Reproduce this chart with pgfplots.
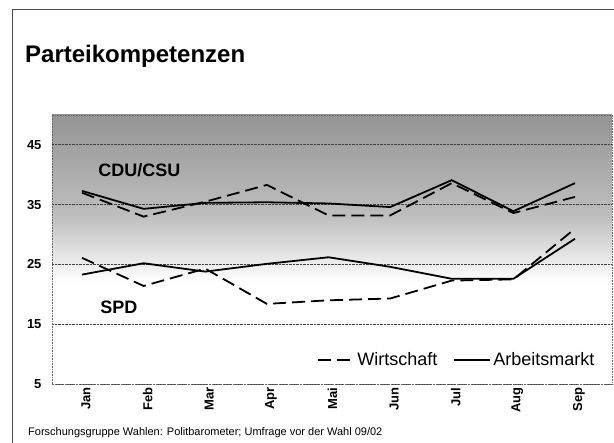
\documentclass[border=0pt]{standalone}
\usepackage{pgfplots}
\pgfplotsset{compat=1.18}
\usepackage{fontspec}
\setmainfont{Liberation Sans}
\pgfdeclareverticalshading{bgshade}{100bp}{color(0bp)=(white); color(44bp)=(white); color(56bp)=(black!25); color(75bp)=(black!42); color(100bp)=(black!42)}
\begin{document}
\begin{tikzpicture}
\useasboundingbox (0pt,0pt) rectangle (614pt,443pt);
\draw[line width=1pt, black!70] (12pt,0pt) -- (12pt,433pt) -- (614pt,433pt);
\node[anchor=base west, inner sep=0pt, font=\fontsize{24}{28}\selectfont\bfseries] at (25pt,380pt) {Parteikompetenzen};
\node[anchor=base west, inner sep=0pt, font=\fontsize{11}{13}\selectfont] at (28pt,7pt) {Forschungsgruppe Wahlen: Politbarometer; Umfrage vor der Wahl 09/02};
\begin{axis}[
  at={(52pt,59pt)}, anchor=south west,
  scale only axis, width=560pt, height=269pt,
  xmin=-0.487, xmax=8.6, ymin=5, ymax=50,
  axis background/.style={shading=bgshade},
  axis line style={densely dotted, black!60, line width=0.6pt},
  ytick={5,15,25,35,45},
  ymajorgrids,
  grid style={densely dotted, black!75, line width=0.8pt},
  xtick={0,...,8},
  xticklabels={Jan,Feb,Mar,Apr,Mai,Jun,Jul,Aug,Sep},
  major tick length=0pt,
  tick label style={font=\fontsize{13}{15}\selectfont\bfseries},
  /pgf/number format/assume math mode=true,
  x tick label style={rotate=90, anchor=east, yshift=-4pt},
  y tick label style={xshift=-7pt},
  legend style={draw=none, fill=none, at={(rel axis cs:0.978,0.089)}, anchor=east,
    font=\fontsize{18}{20}\selectfont,
    /tikz/every even column/.append style={column sep=14pt}},
  legend columns=2,
  legend image code/.code={\draw[#1, line width=2pt] (0pt,0pt) -- (36pt,0pt);},
  clip=false,
]
\addplot[black, line width=1.8pt, dash pattern=on 13pt off 6pt] coordinates {
 (0,37) (1,33) (2,35.5) (3,38.3) (4,33.2) (5,33.2) (6,38.6) (7,33.6) (8,36.3)};
\addlegendentry{Wirtschaft}
\addplot[black, line width=1.8pt] coordinates {
 (0,37.3) (1,34.3) (2,35.3) (3,35.4) (4,35.2) (5,34.6) (6,39.1) (7,33.9) (8,38.6)};
\addlegendentry{Arbeitsmarkt}
\addplot[black, line width=1.8pt, dash pattern=on 13pt off 6pt, forget plot] coordinates {
 (0,26.1) (1,21.4) (2,24.3) (3,18.4) (4,19) (5,19.3) (6,22.3) (7,22.5) (8,31)};
\addplot[black, line width=1.8pt, forget plot] coordinates {
 (0,23.3) (1,25.2) (2,23.8) (3,25.1) (4,26.2) (5,24.6) (6,22.6) (7,22.6) (8,29.3)};
\node[font=\fontsize{18}{20}\selectfont\bfseries] at (axis cs:0.93,40.8) {CDU/CSU};
\node[font=\fontsize{18}{20}\selectfont\bfseries] at (axis cs:0.6,17.9) {SPD};
\end{axis}
\end{tikzpicture}
\end{document}
